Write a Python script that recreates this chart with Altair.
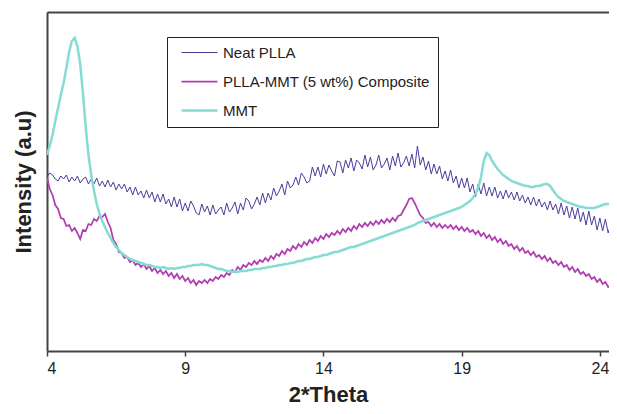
import altair as alt
import pandas as pd

# 2*Theta sampling grid (degrees), 0.1 step from 4.0 to 24.6
two_theta = [round(4.0 + 0.1 * i, 1) for i in range(207)]

neat_plla = [
    174, 178, 176, 172, 170, 175, 172, 176, 169, 174,
    170, 175, 168, 172, 174, 167, 172, 167, 173, 165,
    170, 164, 171, 164, 169, 161, 167, 162, 167, 159,
    164, 156, 164, 156, 160, 153, 161, 153, 159, 149,
    157, 149, 157, 147, 152, 144, 154, 144, 152, 140,
    148, 140, 150, 145, 138, 136, 147, 139, 145, 136,
    146, 137, 141, 144, 136, 148, 139, 143, 149, 137,
    148, 141, 153, 150, 142, 147, 154, 146, 158, 148,
    158, 151, 163, 155, 160, 167, 156, 170, 163, 166,
    174, 166, 178, 174, 168, 170, 184, 175, 184, 174,
    187, 177, 186, 180, 175, 190, 189, 178, 191, 183,
    193, 180, 191, 188, 182, 196, 184, 194, 181, 186,
    196, 183, 187, 193, 181, 195, 185, 198, 184, 188,
    195, 185, 197, 183, 205, 186, 194, 181, 190, 177,
    187, 177, 185, 172, 180, 170, 181, 168, 175, 163,
    173, 163, 173, 159, 167, 154, 167, 157, 168, 155,
    164, 155, 164, 153, 160, 152, 161, 153, 159, 151,
    159, 150, 156, 148, 154, 146, 154, 145, 152, 144,
    149, 141, 150, 141, 147, 137, 148, 136, 145, 133,
    144, 132, 143, 129, 139, 126, 140, 126, 135, 121,
    133, 120, 132, 118, 127, 115, 123,
]

composite = [
    173, 162, 156, 146, 142, 133, 132, 125, 126, 120,
    123, 118, 112, 121, 120, 127, 126, 132, 130, 135,
    134, 137, 129, 123, 111, 107, 99, 98, 93, 94,
    89, 91, 86, 88, 84, 87, 82, 85, 80, 83,
    78, 81, 77, 80, 75, 78, 73, 77, 72, 75,
    70, 73, 68, 71, 66, 70, 68, 71, 68, 72,
    70, 74, 72, 76, 74, 78, 76, 81, 79, 84,
    81, 86, 84, 88, 86, 90, 87, 91, 89, 93,
    90, 95, 92, 97, 95, 100, 97, 102, 100, 105,
    102, 107, 104, 109, 106, 111, 108, 113, 110, 115,
    112, 117, 114, 118, 116, 120, 117, 122, 119, 123,
    120, 125, 122, 127, 124, 128, 125, 129, 126, 130,
    127, 131, 128, 132, 129, 133, 130, 135, 136, 141,
    146, 152, 153, 148, 142, 136, 133, 128, 129, 125,
    128, 124, 127, 123, 126, 123, 126, 122, 125, 121,
    124, 120, 123, 119, 121, 117, 120, 115, 118, 113,
    116, 111, 114, 109, 112, 107, 110, 105, 107, 102,
    105, 100, 103, 98, 100, 96, 99, 94, 96, 92,
    95, 90, 93, 88, 90, 86, 89, 84, 86, 81,
    84, 79, 82, 77, 79, 75, 77, 72, 74, 69,
    72, 67, 69, 64, 66, 62, 63,
]

mmt = [
    196, 205, 216, 230, 243, 256, 268, 283, 299, 310,
    313, 305, 287, 258, 224, 196, 176, 160, 147, 137,
    130, 124, 118, 113, 108, 104, 101, 98, 96, 94,
    92, 91, 90, 89, 88, 87, 86, 86, 85, 84,
    84, 83, 84, 83, 82, 83, 82, 83, 83, 84,
    84, 85, 85, 86, 86, 86, 87, 86, 86, 85,
    84, 83, 82, 82, 81, 80, 80, 79, 80, 79,
    80, 80, 80, 81, 81, 82, 82, 82, 83, 83,
    84, 84, 85, 85, 86, 86, 87, 87, 88, 88,
    89, 90, 90, 91, 92, 92, 93, 94, 94, 95,
    96, 96, 97, 98, 99, 99, 100, 101, 102, 103,
    104, 104, 105, 106, 107, 108, 109, 110, 111, 112,
    113, 114, 115, 116, 117, 118, 119, 120, 121, 122,
    123, 124, 125, 126, 128, 129, 130, 131, 132, 133,
    134, 135, 136, 137, 138, 139, 140, 141, 142, 143,
    144, 146, 148, 150, 153, 157, 163, 174, 190, 198,
    196, 190, 186, 182, 179, 176, 174, 172, 170, 169,
    168, 167, 166, 165, 165, 164, 164, 165, 165, 166,
    167, 167, 165, 161, 157, 154, 152, 150, 149, 148,
    147, 146, 145, 144, 144, 143, 143, 143, 143, 144,
    145, 146, 147, 147, 147, 146, 146,
]

names = ["Neat PLLA", "PLLA-MMT (5 wt%) Composite", "MMT"]
colors = ["#4a3d9a", "#b03eb0", "#85dcd3"]
widths = [1, 2.5, 2.5]
x_ticks = [4, 9, 14, 19, 24]

FONT = "Liberation Sans"

def frame(values, name):
    return pd.DataFrame({"two_theta": two_theta, "intensity": values, "series": name})

x_scale = alt.Scale(domain=[4, 24.33], nice=False, zero=False)
y_scale = alt.Scale(domain=[0, 339], nice=False, zero=False)
color_scale = alt.Scale(domain=names, range=colors)
width_scale = alt.Scale(domain=names, range=widths)

legend = alt.Legend(
    title=None, orient="none", legendX=120, legendY=25,
    padding=8, rowPadding=13,
    symbolType="M-3.6,0H3.6", symbolSize=100, symbolOffset=17,
    labelOffset=16, labelFont=FONT, labelFontSize=15, labelColor="#222222",
    labelLimit=400, fillColor="white", strokeColor="#222222",
)

y_axis = alt.Axis(
    labels=False, ticks=False, grid=False, title="Intensity (a.u)",
    titleFont=FONT, titleFontSize=22, titleFontWeight="bold", titleColor="#222222",
    titlePadding=12, domainColor="#444444", domainWidth=2,
)

x_bottom = alt.Axis(
    values=x_ticks, format="d", grid=False, title="2*Theta",
    tickSize=5, tickColor="#444444", tickWidth=1.5,
    domainColor="#444444", domainWidth=2,
    labelFont=FONT, labelFontSize=16, labelColor="#222222", labelPadding=4,
    titleFont=FONT, titleFontSize=22, titleFontWeight="bold", titleColor="#222222",
    titlePadding=8,
)

x_top = alt.Axis(
    orient="top", labels=False, ticks=False, grid=False, title=None,
    domainColor="#444444", domainWidth=2,
)


def line(values, name, xaxis):
    if xaxis is None:
        xenc = alt.X("two_theta:Q", scale=x_scale, axis=None)
    else:
        xenc = alt.X("two_theta:Q", scale=x_scale, axis=xaxis)
    return alt.Chart(frame(values, name)).mark_line(clip=True).encode(
        x=xenc,
        y=alt.Y("intensity:Q", scale=y_scale, axis=y_axis),
        color=alt.Color("series:N", scale=color_scale, legend=legend),
        strokeWidth=alt.StrokeWidth("series:N", scale=width_scale, legend=legend),
    )


chart = alt.layer(
    line(neat_plla, names[0], x_bottom),
    line(composite, names[1], x_top),
    line(mmt, names[2], None),
).resolve_axis(x="independent").properties(
    width=562, height=339,
    autosize=alt.AutoSizeParams(type="none"),
    padding={"left": 39, "top": 4, "right": 0, "bottom": 55},
).configure_view(stroke=None).configure(background="white")

chart.save("out.html", embed_options={"renderer": "svg", "actions": False})
